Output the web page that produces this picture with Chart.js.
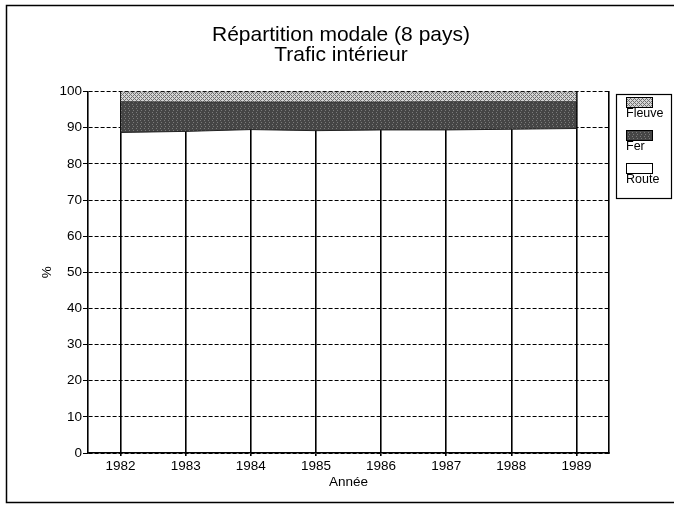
<!DOCTYPE html>
<html>
<head>
<meta charset="utf-8">
<script src="https://cdn.jsdelivr.net/npm/chart.js@4"></script>
<style>
  html, body { margin: 0; padding: 0; background: #ffffff; }
  #wrap { width: 674px; height: 506px; }
</style>
</head>
<body>
<div id="wrap"><canvas id="modalChart" width="674" height="506"></canvas></div>
<script>
const years = ["1982", "1983", "1984", "1985", "1986", "1987", "1988", "1989"];
const route = [88.7, 89.0, 89.5, 89.2, 89.4, 89.4, 89.6, 89.8];
const fer = [8.5, 8.1, 7.6, 7.9, 7.7, 7.8, 7.6, 7.4];
const fleuve = [2.8, 2.9, 2.9, 2.9, 2.9, 2.8, 2.8, 2.8];

const FONT = "'Liberation Sans', Arial, sans-serif";

// small fixed tiles to imitate the printed screens
const makePattern = (bg, fg, isDark) => {
  const c = document.createElement("canvas");
  c.width = 4;
  c.height = 4;
  const g = c.getContext("2d");
  g.fillStyle = bg;
  g.fillRect(0, 0, 4, 4);
  g.fillStyle = fg;
  for (let x = 0; x < 4; x++) {
    for (let y = 0; y < 4; y++) {
      const hit = isDark
        ? (x * 3 + y * 2) % 7 === 0
        : (x + y) % 4 === 0 || (x - y + 4) % 4 === 0;
      if (hit) g.fillRect(x, y, 1, 1);
    }
  }
  return g.createPattern(c, "repeat");
};

const ctx = document.getElementById("modalChart").getContext("2d");
const fleuvePattern = makePattern("#d4d4d4", "#707070", false);
const ferPattern = makePattern("#454545", "#7a7a7a", true);

const frameAndLegend = {
  id: "frameAndLegend",
  afterDraw(chart) {
    const c = chart.ctx;
    c.save();
    // outer frame
    c.strokeStyle = "#000";
    c.lineWidth = 1.5;
    c.beginPath();
    c.moveTo(674, 5.5);
    c.lineTo(6.5, 5.5);
    c.lineTo(6.5, 502.5);
    c.lineTo(674, 502.5);
    c.stroke();

    // legend box
    c.lineWidth = 1.2;
    c.strokeRect(616.5, 94.5, 55, 104);
    const items = chart.data.datasets.slice().reverse();
    c.font = "12.5px " + FONT;
    c.textBaseline = "middle";
    c.textAlign = "left";
    items.forEach((ds, i) => {
      const y = 97 + i * 33;
      c.fillStyle = ds.backgroundColor;
      c.fillRect(626, y, 27, 11);
      c.lineWidth = 1;
      c.strokeStyle = "#000";
      c.strokeRect(626.5, y + 0.5, 26, 10);
      c.fillStyle = "#000";
      c.fillText(ds.label, 626, y + 17);
    });
    c.restore();
  }
};

new Chart(ctx, {
  type: "line",
  data: {
    labels: years,
    datasets: [
      {
        label: "Route",
        data: route,
        backgroundColor: "#ffffff",
        borderColor: "#222",
        borderWidth: 1,
        fill: false,
        pointRadius: 0,
        tension: 0
      },
      {
        label: "Fer",
        data: fer,
        backgroundColor: ferPattern,
        borderColor: "#333",
        borderWidth: 1,
        fill: "-1",
        pointRadius: 0,
        tension: 0
      },
      {
        label: "Fleuve",
        data: fleuve,
        backgroundColor: fleuvePattern,
        borderColor: "#444",
        borderWidth: 1,
        fill: "-1",
        pointRadius: 0,
        tension: 0
      }
    ]
  },
  options: {
    responsive: false,
    animation: false,
    layout: { padding: { left: 8, right: 0, top: 0, bottom: 0 } },
    scales: {
      x: {
        type: "category",
        offset: true,
        afterFit: (s) => { s.height = 53; },
        grid: { offset: false, color: "#000", lineWidth: 1.6, tickLength: 3 },
        border: { display: true, color: "#000", width: 1.6 },
        ticks: { color: "#000", font: { family: FONT, size: 13.5 }, padding: 2, maxRotation: 0 },
        title: {
          display: true,
          text: "Année",
          color: "#000",
          font: { family: FONT, size: 13.5 },
          padding: { top: 0, bottom: 16 }
        }
      },
      y: {
        stacked: true,
        min: 0,
        max: 100,
        afterFit: (s) => { s.width = 80; },
        ticks: { stepSize: 10, color: "#000", font: { family: FONT, size: 13.5 }, padding: 1 },
        grid: { color: "#000", lineWidth: 1, tickLength: 5 },
        border: { display: true, color: "#000", width: 1.6, dash: [4, 2] },
        title: {
          display: true,
          text: "%",
          color: "#000",
          font: { family: FONT, size: 13.5 },
          padding: { top: 31, bottom: 0 }
        }
      },
      y2: {
        position: "right",
        min: 0,
        max: 100,
        afterFit: (s) => { s.width = 65; },
        ticks: { display: false },
        grid: { display: false, drawTicks: false },
        border: { display: true, color: "#000", width: 1.6 }
      }
    },
    plugins: {
      legend: { display: false },
      tooltip: { enabled: false },
      title: {
        display: true,
        text: ["Répartition modale (8 pays)", "Trafic intérieur"],
        color: "#000",
        font: { family: FONT, size: 21, weight: "normal", lineHeight: 0.92 },
        padding: { top: 26, bottom: 27 }
      }
    }
  },
  plugins: [frameAndLegend]
});
</script>
</body>
</html>
